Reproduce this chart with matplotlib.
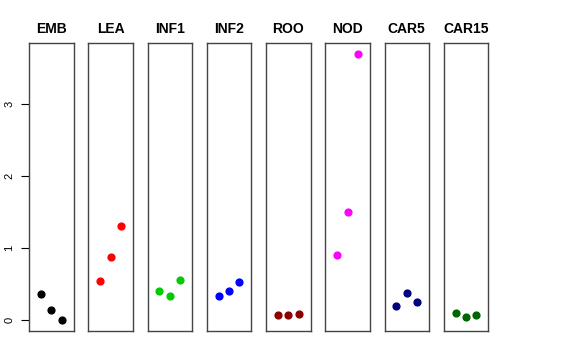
import numpy as np
import matplotlib
matplotlib.use("Agg")
import matplotlib.pyplot as plt

plt.rcParams['font.family'] = ['Liberation Sans', 'DejaVu Sans']

# Panel names, colours and values
groups = ["EMB", "LEA", "INF1", "INF2", "ROO", "NOD", "CAR5", "CAR15"]
colors = ["black", "red", "#00CD00", "blue", "#8B0000", "magenta", "#000080", "#006400"]
EMB = [0.37, 0.15, 0.0]
LEA = [0.54, 0.885, 1.31]
INF1 = [0.41, 0.335, 0.565]
INF2 = [0.335, 0.41, 0.53]
ROO = [0.07, 0.08, 0.088]
NOD = [0.90, 1.50, 3.70]
CAR5 = [0.20, 0.38, 0.26]
CAR15 = [0.097, 0.05, 0.07]
values = [EMB, LEA, INF1, INF2, ROO, NOD, CAR5, CAR15]
reps = [1, 2, 3]

W, H = 576, 360
fig = plt.figure(figsize=(W / 100, H / 100), dpi=100)

ymin = min(min(v) for v in values)
ymax = max(max(v) for v in values)
pad = 0.04 * (ymax - ymin)

left0, step, width = 29, 59.25, 44.5
top, bottom = 43, 331

for i, (name, col, vals) in enumerate(zip(groups, colors, values)):
    ax = fig.add_axes([(left0 + i * step) / W, 1 - bottom / H,
                       width / W, (bottom - top) / H])
    ax.scatter(reps, vals, s=24, color=col, zorder=3)
    ax.set_xlim(-0.13, 4.13)
    ax.set_ylim(ymin - pad, ymax + pad)
    ax.set_xticks([])
    for sp in ax.spines.values():
        sp.set_color("#444444")
        sp.set_linewidth(1.0)
    ax.set_title(name, fontsize=10, fontweight="bold", pad=7)
    if i == 0:
        ax.set_yticks([0, 1, 2, 3])
        ax.tick_params(axis="y", length=5.5, width=0.8, labelsize=8, pad=5)
        for lab in ax.get_yticklabels():
            lab.set_rotation(90)
            lab.set_va("center")
    else:
        ax.set_yticks([])

fig.savefig("out.png", dpi=100)
